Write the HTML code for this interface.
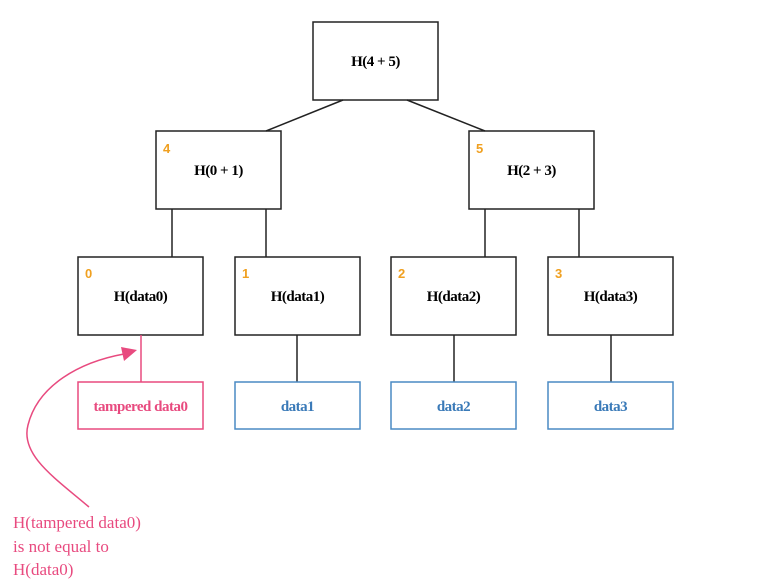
<!DOCTYPE html>
<html><head><meta charset="utf-8"><style>
html,body{margin:0;padding:0;background:#fff;}
svg{display:block;}
.n{font-family:"Liberation Serif",serif;font-weight:bold;font-size:15px;text-anchor:middle;letter-spacing:-0.5px;}
.i{font-family:"Liberation Sans",sans-serif;font-weight:bold;font-size:13px;fill:#f0a020;}
</style></head><body>
<svg width="760" height="585" viewBox="0 0 760 585" xmlns="http://www.w3.org/2000/svg">
<g stroke="#222" stroke-width="1.5" fill="none">
<line x1="343" y1="100" x2="266" y2="131"/>
<line x1="407" y1="100" x2="485" y2="131"/>
<line x1="172" y1="209" x2="172" y2="257"/>
<line x1="266" y1="209" x2="266" y2="257"/>
<line x1="485" y1="209" x2="485" y2="257"/>
<line x1="579" y1="209" x2="579" y2="257"/>
<line x1="297" y1="335" x2="297" y2="382"/>
<line x1="454" y1="335" x2="454" y2="382"/>
<line x1="611" y1="335" x2="611" y2="382"/>
<rect x="313" y="22" width="125" height="78"/>
<rect x="156" y="131" width="125" height="78"/>
<rect x="469" y="131" width="125" height="78"/>
<rect x="78" y="257" width="125" height="78"/>
<rect x="235" y="257" width="125" height="78"/>
<rect x="391" y="257" width="125" height="78"/>
<rect x="548" y="257" width="125" height="78"/>
</g>
<line x1="141" y1="335" x2="141" y2="382" stroke="#e84a7f" stroke-width="1.5"/>
<rect x="78" y="382" width="125" height="47" fill="none" stroke="#e84a7f" stroke-width="1.5"/>
<g fill="none" stroke="#4a8ac4" stroke-width="1.5">
<rect x="235" y="382" width="125" height="47"/>
<rect x="391" y="382" width="125" height="47"/>
<rect x="548" y="382" width="125" height="47"/>
</g>
<text class="n" x="375.5" y="66">H(4 + 5)</text>
<text class="n" x="218.5" y="175">H(0 + 1)</text>
<text class="n" x="531.5" y="175">H(2 + 3)</text>
<text class="n" x="140.5" y="301">H(data0)</text>
<text class="n" x="297.5" y="301">H(data1)</text>
<text class="n" x="453.5" y="301">H(data2)</text>
<text class="n" x="610.5" y="301">H(data3)</text>
<text class="i" x="163" y="153">4</text>
<text class="i" x="476" y="153">5</text>
<text class="i" x="85" y="278">0</text>
<text class="i" x="242" y="278">1</text>
<text class="i" x="398" y="278">2</text>
<text class="i" x="555" y="278">3</text>
<text class="n" x="140.5" y="411" fill="#e84a7f">tampered data0</text>
<text class="n" x="297.5" y="411" fill="#3a7ab8">data1</text>
<text class="n" x="453.5" y="411" fill="#3a7ab8">data2</text>
<text class="n" x="610.5" y="411" fill="#3a7ab8">data3</text>
<path d="M89,507 C55,478 20,455 28,425 C38,385 80,362 124,354" fill="none" stroke="#e84a7f" stroke-width="1.5"/>
<polygon points="137,350 121,347 124,361" fill="#e84a7f"/>
<g font-family="Liberation Serif,serif" font-size="17" fill="#e84a7f">
<text x="13" y="528">H(tampered data0)</text>
<text x="13" y="552">is not equal to</text>
<text x="13" y="575">H(data0)</text>
</g>
</svg>
</body></html>
